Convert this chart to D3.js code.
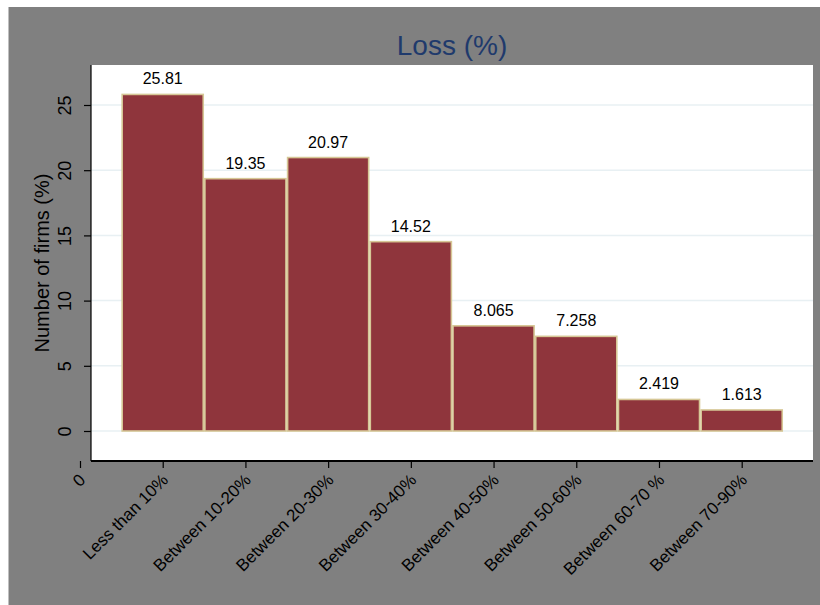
<!DOCTYPE html>
<html><head><meta charset="utf-8">
<script src="https://cdn.jsdelivr.net/npm/d3@7"></script>
<style>html,body{margin:0;padding:0;background:#fff;}svg{display:block;font-family:Arial,"Liberation Sans",sans-serif;}</style>
</head><body>
<script>
const categories = ["Less than 10%","Between 10-20%","Between 20-30%","Between 30-40%","Between 40-50%","Between 50-60%","Between 60-70 %","Between 70-90%"];
const values = [25.81, 19.35, 20.97, 14.52, 8.065, 7.258, 2.419, 1.613];
const valueLabels = ["25.81","19.35","20.97","14.52","8.065","7.258","2.419","1.613"];
const yTicks = [0, 5, 10, 15, 20, 25];
const title = "Loss (%)";
const yTitle = "Number of firms (%)";

const W = 820, H = 605;
const svg = d3.select("body").append("svg").attr("width", W).attr("height", H);

svg.append("rect").attr("x", 8.5).attr("y", 7).attr("width", W - 8.5).attr("height", H - 7).attr("fill", "#808080");

const plot = {left: 91, right: 813, top: 65, bottom: 461};
svg.append("rect").attr("x", plot.left).attr("y", plot.top)
  .attr("width", plot.right - plot.left).attr("height", plot.bottom - plot.top).attr("fill", "#fff");

const y = d3.scaleLinear().domain([0, 25]).range([431, 105]);
const x = d3.scaleLinear().domain([0, 8]).range([80, 741.7]);

// gridlines
svg.append("g").selectAll("line").data(yTicks).join("line")
  .attr("x1", plot.left).attr("x2", plot.right)
  .attr("y1", d => y(d)).attr("y2", d => y(d))
  .attr("stroke", "#e8f0f3").attr("stroke-width", 1.5);

// bars
const barHalf = 0.49;
svg.append("g").selectAll("rect").data(values).join("rect")
  .attr("x", (d, i) => x(i + 1 - barHalf))
  .attr("width", (d, i) => x(i + 1 + barHalf) - x(i + 1 - barHalf))
  .attr("y", d => y(d))
  .attr("height", d => y(0) - y(d))
  .attr("fill", "#8f353c").attr("stroke", "#d6c796").attr("stroke-width", 1.6);

// value labels
svg.append("g").selectAll("text").data(values).join("text")
  .attr("x", (d, i) => x(i + 1))
  .attr("y", d => y(d) - 10)
  .attr("text-anchor", "middle").attr("font-size", 16).attr("fill", "#000")
  .text((d, i) => valueLabels[i]);

// y axis
const yAxis = d3.axisLeft(y).tickValues(yTicks).tickSize(7).tickFormat(d3.format("d"));
const gy = svg.append("g").attr("transform", `translate(${plot.left},0)`).call(yAxis);
gy.select(".domain").remove();
gy.selectAll(".tick line").attr("stroke", "#000").attr("stroke-width", 1.2);
gy.selectAll(".tick text").attr("font-size", 18).attr("font-family", "Arial,'Liberation Sans',sans-serif")
  .attr("fill", "#000").attr("text-anchor", "middle").attr("x", null).attr("y", 0).attr("dy", "0")
  .attr("transform", "translate(-20,0) rotate(-90)");
svg.append("line").attr("x1", plot.left).attr("x2", plot.left).attr("y1", plot.top).attr("y2", plot.bottom)
  .attr("stroke", "#000").attr("stroke-width", 1.2);

// x axis
const xTickVals = d3.range(0, 9);
const xLabels = ["0"].concat(categories);
const xAxis = d3.axisBottom(x).tickValues(xTickVals).tickSize(7).tickFormat((d) => xLabels[d]);
const gx = svg.append("g").attr("transform", `translate(0,${plot.bottom})`).call(xAxis);
gx.select(".domain").remove();
gx.selectAll(".tick line").attr("stroke", "#000").attr("stroke-width", 1.2);
gx.selectAll(".tick text").attr("font-size", 17).attr("font-family", "Arial,'Liberation Sans',sans-serif")
  .attr("fill", "#000").attr("text-anchor", "end").attr("y", 0).attr("dy", 0)
  .attr("transform", "translate(6,20) rotate(-45)");
svg.append("line").attr("x1", plot.left).attr("x2", plot.right).attr("y1", plot.bottom).attr("y2", plot.bottom)
  .attr("stroke", "#000").attr("stroke-width", 2);

// titles
svg.append("text").attr("x", (plot.left + plot.right) / 2).attr("y", 55)
  .attr("text-anchor", "middle").attr("font-size", 28).attr("fill", "#1f3a6c").text(title);
svg.append("text").attr("transform", `translate(49,${(plot.top + plot.bottom) / 2}) rotate(-90)`)
  .attr("text-anchor", "middle").attr("font-size", 20).attr("fill", "#000").text(yTitle);
</script>
</body></html>
